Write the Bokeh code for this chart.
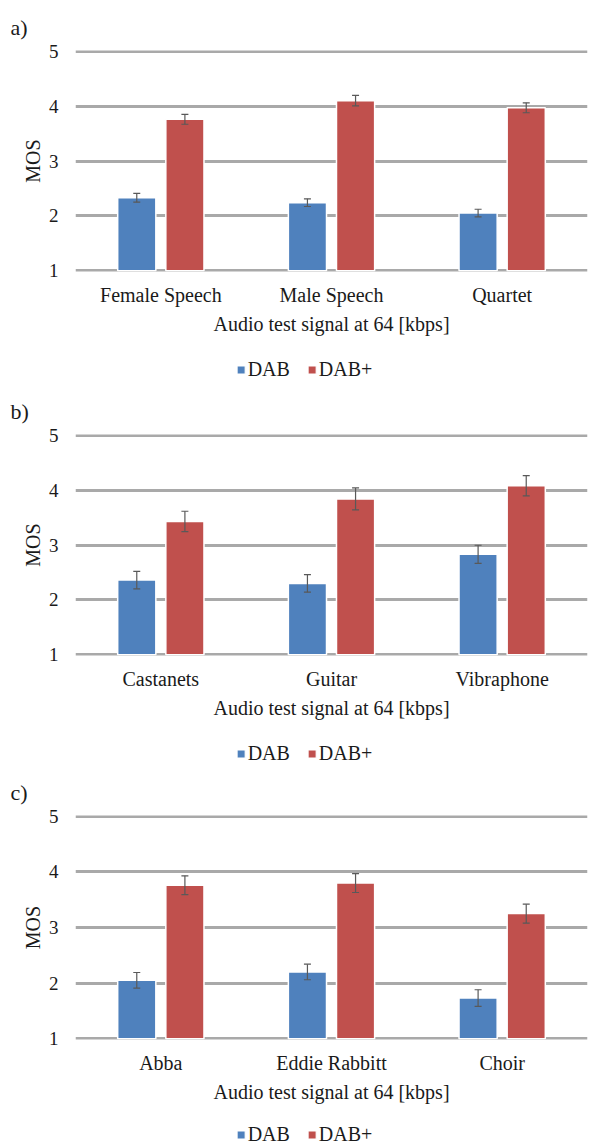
from bokeh.plotting import figure
from bokeh.models import (ColumnDataSource, FactorRange, Legend, LegendItem, Whisker,
                          Range1d, FixedTicker, TeeHead)
from bokeh.layouts import column
from bokeh.transform import dodge
from bokeh.embed import file_html
from bokeh.resources import INLINE

panel_labels = ["a)", "b)", "c)"]
x_title = "Audio test signal at 64 [kbps]"
y_title = "MOS"
series_names = ["DAB", "DAB+"]
y_ticks = [1, 2, 3, 4, 5]

cats_a = ["Female Speech", "Male Speech", "Quartet"]
dab_a = [2.33, 2.24, 2.05]
dab_err_a = [0.08, 0.07, 0.07]
dabp_a = [3.76, 4.10, 3.97]
dabp_err_a = [0.09, 0.095, 0.09]

cats_b = ["Castanets", "Guitar", "Vibraphone"]
dab_b = [2.36, 2.30, 2.83]
dab_err_b = [0.16, 0.16, 0.165]
dabp_b = [3.43, 3.84, 4.08]
dabp_err_b = [0.185, 0.20, 0.185]

cats_c = ["Abba", "Eddie Rabbitt", "Choir"]
dab_c = [2.05, 2.20, 1.73]
dab_err_c = [0.14, 0.14, 0.15]
dabp_c = [3.76, 3.80, 3.25]
dabp_err_c = [0.17, 0.17, 0.17]

BLUE = "#4F81BD"
RED = "#C0504D"
GRID = "#A9A9A9"
ERR = "#595959"
TXT = "#1a1a1a"
FONT = "Liberation Serif"

PAD = 0.015  # small y padding so that the gridlines at 1 and 5 are drawn
OFF = 0.141
BAR_W = 0.2235


def make_source(cats, dab, dab_err, dabp, dabp_err):
    return ColumnDataSource(dict(
        cats=cats, dab=dab, dabp=dabp,
        dab_lo=[v - e for v, e in zip(dab, dab_err)],
        dab_hi=[v + e for v, e in zip(dab, dab_err)],
        dabp_lo=[v - e for v, e in zip(dabp, dabp_err)],
        dabp_hi=[v + e for v, e in zip(dabp, dabp_err)],
    ))


def add_bars(p, src, lw):
    r1 = p.vbar(x=dodge("cats", -OFF, range=p.x_range), top="dab", bottom=1, width=BAR_W,
                source=src, fill_color=BLUE, line_color="white", line_width=lw)
    r2 = p.vbar(x=dodge("cats", OFF, range=p.x_range), top="dabp", bottom=1, width=BAR_W,
                source=src, fill_color=RED, line_color="white", line_width=lw)
    return r1, r2


def make_panel(label, src, cats, frame_h, total_h):
    unit = frame_h / 4.0
    fh = int(round(frame_h + 2 * PAD * unit))
    top_b = int(round(51 - PAD * unit))
    bottom_b = total_h - top_b - fh
    p = figure(x_range=FactorRange(*cats), y_range=Range1d(1 - PAD, 5 + PAD),
               frame_width=512, frame_height=fh, output_backend="svg",
               toolbar_location=None, title=label,
               min_border_left=75, min_border_right=2,
               min_border_top=top_b, min_border_bottom=bottom_b)
    p.title.text_font = FONT
    p.title.text_font_size = "22px"
    p.title.text_font_style = "normal"
    p.title.text_color = TXT
    p.title.align = "left"
    p.title.offset = -65
    p.title.standoff = 22

    add_bars(p, src, 1.5)

    for key, o in (("dab", -OFF), ("dabp", OFF)):
        wk = Whisker(base=dodge("cats", o, range=p.x_range), upper=key + "_hi",
                     lower=key + "_lo", source=src, line_color=ERR, line_width=1.2,
                     level="overlay",
                     upper_head=TeeHead(size=7, line_color=ERR, line_width=1.2),
                     lower_head=TeeHead(size=7, line_color=ERR, line_width=1.2))
        p.add_layout(wk)

    p.outline_line_color = None
    p.xgrid.visible = False
    p.ygrid.grid_line_color = GRID
    p.ygrid.grid_line_width = 3
    p.yaxis.ticker = FixedTicker(ticks=y_ticks)
    p.yaxis.axis_line_color = None
    p.yaxis.major_tick_line_color = None
    p.yaxis.minor_tick_line_color = None
    p.yaxis.major_label_standoff = 11
    p.yaxis.major_label_text_font = FONT
    p.yaxis.major_label_text_font_size = "19px"
    p.yaxis.major_label_text_color = TXT
    p.yaxis.axis_label = y_title
    p.yaxis.axis_label_text_font = FONT
    p.yaxis.axis_label_text_font_size = "20px"
    p.yaxis.axis_label_text_font_style = "normal"
    p.yaxis.axis_label_text_color = TXT
    p.yaxis.axis_label_standoff = 2

    p.xaxis.axis_line_color = None
    p.xaxis.major_tick_line_color = None
    p.xaxis.minor_tick_line_color = None
    p.xaxis.major_label_standoff = 6
    p.xaxis.major_label_text_font = FONT
    p.xaxis.major_label_text_font_size = "20px"
    p.xaxis.major_label_text_color = TXT
    p.xaxis.axis_label = x_title
    p.xaxis.axis_label_text_font = FONT
    p.xaxis.axis_label_text_font_size = "20px"
    p.xaxis.axis_label_text_font_style = "normal"
    p.xaxis.axis_label_text_color = TXT
    p.xaxis.axis_label_standoff = 4
    return p


def make_legend(src, cats, height, top_border):
    # the series bars are drawn again here, outside the visible y range,
    # only so that the legend can show their swatches
    q = figure(width=589, height=height, x_range=FactorRange(*cats),
               y_range=Range1d(10, 11), output_backend="svg", toolbar_location=None,
               min_border_left=0, min_border_right=56, min_border_top=top_border,
               min_border_bottom=0, x_axis_location=None, y_axis_location=None)
    q.grid.visible = False
    q.outline_line_color = None
    r1, r2 = add_bars(q, src, 1)
    legend = Legend(items=[LegendItem(label=series_names[0], renderers=[r1]),
                           LegendItem(label=series_names[1], renderers=[r2])],
                    orientation="horizontal", location="center",
                    glyph_width=10, glyph_height=10, label_standoff=2, spacing=17,
                    label_text_font=FONT, label_text_font_size="20px",
                    label_text_color=TXT, border_line_color=None,
                    background_fill_alpha=0, padding=0, margin=0)
    q.add_layout(legend)
    return q


sa = make_source(cats_a, dab_a, dab_err_a, dabp_a, dabp_err_a)
sb = make_source(cats_b, dab_b, dab_err_b, dabp_b, dabp_err_b)
sc = make_source(cats_c, dab_c, dab_err_c, dabp_c, dabp_err_c)

pa = make_panel(panel_labels[0], sa, cats_a, 219, 350)
la = make_legend(sa, cats_a, 34, 4)
pb = make_panel(panel_labels[1], sb, cats_b, 219, 350)
lb = make_legend(sb, cats_b, 31, 7)
pc = make_panel(panel_labels[2], sc, cats_c, 222, 353)
lc = make_legend(sc, cats_c, 28, 4)

layout = column(pa, la, pb, lb, pc, lc, spacing=0)
open("out.html", "w").write(file_html(layout, INLINE))
